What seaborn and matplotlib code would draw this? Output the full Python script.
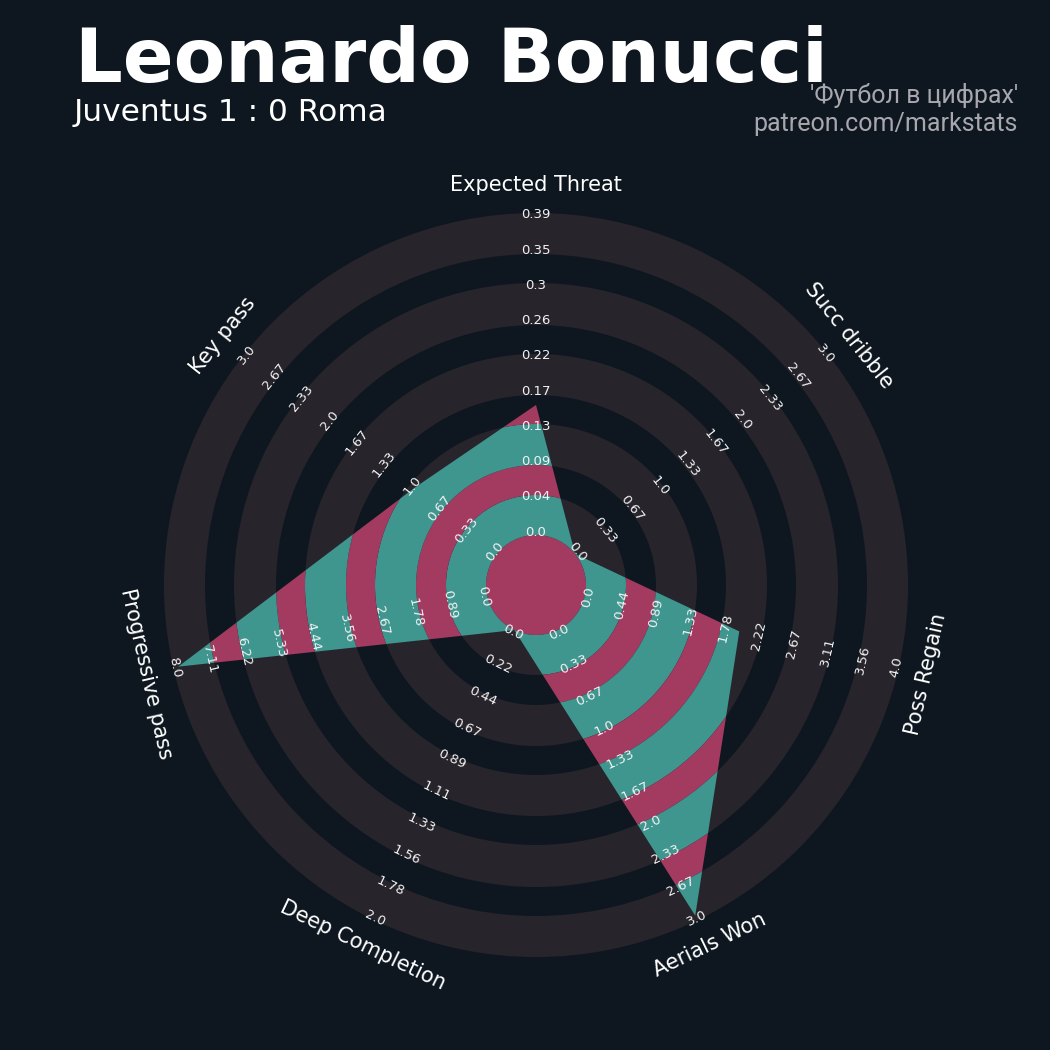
import numpy as np
import matplotlib
matplotlib.use("Agg")
import matplotlib.pyplot as plt
from matplotlib.patches import Wedge, Polygon
import seaborn as sns

# radar data
params = ["Expected Threat", "Succ dribble", "Poss Regain", "Aerials Won",
          "Deep Completion", "Progressive pass", "Key pass"]
values = [0.16, 0.0, 2.0, 3.0, 0.0, 8.0, 1.0]
range_low = [0, 0, 0, 0, 0, 0, 0]
range_high = [0.39, 3.0, 4.0, 3.0, 2.0, 8.0, 3.0]

player = "Leonardo Bonucci"
match = "Juventus 1 : 0 Roma"
endnote = ["'Футбол в цифрах'", "patreon.com/markstats"]

# colours
bg = "#0e1720"
ring_col = "#28242c"
teal = "#3e968f"
pink = "#a33a60"

sns.set_theme(style="dark", rc={"figure.facecolor": bg, "axes.facecolor": bg})
plt.rcParams["font.family"] = ["DejaVu Sans"]

fig = plt.figure(figsize=(10.5, 10.5), dpi=100)
ax = fig.add_axes([0, 0, 1, 1])
ax.set_xlim(0, 1050)
ax.set_ylim(0, 1050)
ax.set_aspect("equal")
ax.axis("off")

cx, cy = 536, 465          # radar centre (pixels, y up)
r0, r1 = 50, 367           # radius of min / max value
edges = [50, 90, 120, 161, 190, 231, 260, 302, 331, 372]   # ring boundaries

# background rings
for i in range(0, len(edges) - 1, 2):
    ax.add_patch(Wedge((cx, cy), edges[i + 1], 0, 360, width=edges[i + 1] - edges[i],
                       facecolor=ring_col, edgecolor="none", zorder=1))

n = len(params)
theta = np.deg2rad(np.arange(n) * 360 / n)   # clockwise from top


def to_xy(r, t):
    return cx + r * np.sin(t), cy + r * np.cos(t)


frac = [(v - lo) / (hi - lo) for v, lo, hi in zip(values, range_low, range_high)]
rad = [r0 + f * (r1 - r0) for f in frac]
px, py = to_xy(np.array(rad), theta)
poly = Polygon(np.column_stack([px, py]), closed=True, facecolor="none", edgecolor="none")
ax.add_patch(poly)

# radar fill: pink centre, then alternating teal / pink bands
w = ax.add_patch(Wedge((cx, cy), edges[0], 0, 360, facecolor=pink, edgecolor="none", zorder=2))
w.set_clip_path(poly)
for i in range(len(edges) - 1):
    col = teal if i % 2 == 0 else pink
    w = ax.add_patch(Wedge((cx, cy), edges[i + 1], 0, 360, width=edges[i + 1] - edges[i],
                           facecolor=col, edgecolor="none", zorder=2))
    w.set_clip_path(poly)
w = ax.add_patch(Wedge((cx, cy), 600, 0, 360, width=600 - edges[-1],
                       facecolor=teal, edgecolor="none", zorder=2))
w.set_clip_path(poly)

# parameter names and range labels
for i, name in enumerate(params):
    deg = i * 360 / n
    rot = 180 - deg if 90 < deg < 270 else -deg
    x, y = to_xy(400, theta[i])
    ax.text(x, y, name, color="white", fontsize=15, ha="center", va="center",
            rotation=rot, rotation_mode="anchor", zorder=5)
    for k, val in enumerate(np.linspace(range_low[i], range_high[i], 10)):
        rr = r0 + 3 + k / 9 * (r1 - r0)
        x, y = to_xy(rr, theta[i])
        ax.text(x, y, str(round(val, 2)), color="#f2f2f2", fontsize=9.5,
                ha="center", va="center", rotation=rot, rotation_mode="anchor", zorder=5)

# titles
ax.text(75, 1050 - 82, player, color="white", fontsize=54, fontweight="bold",
        ha="left", va="baseline")
ax.text(74, 1050 - 121, match, color="white", fontsize=22.5, ha="left", va="baseline")
ax.text(1018, 1050 - 103, endnote[0], color="#a7a7ad", fontsize=18,
        family="Roboto", ha="right", va="baseline")
ax.text(1018, 1050 - 131, endnote[1], color="#a7a7ad", fontsize=18,
        family="Roboto", ha="right", va="baseline")

fig.savefig("out.png", dpi=100, facecolor=bg)
